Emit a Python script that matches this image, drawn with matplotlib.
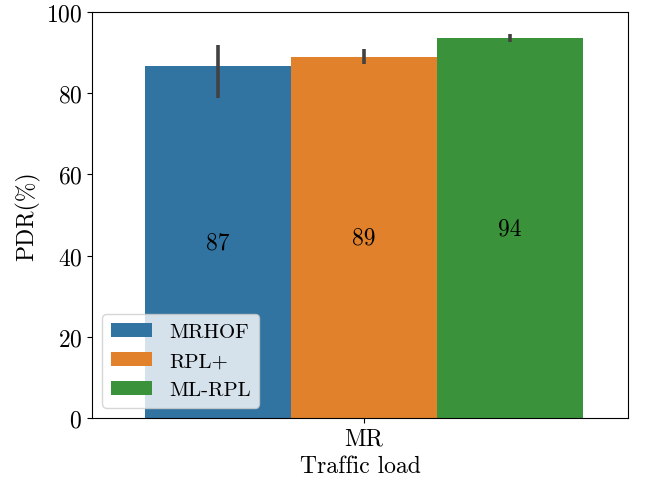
import matplotlib
matplotlib.use("Agg")
import matplotlib.pyplot as plt

plt.rcParams['font.family'] = 'cmr10'
plt.rcParams['mathtext.fontset'] = 'cm'
plt.rcParams['axes.formatter.use_mathtext'] = True
plt.rcParams['font.size'] = 17

protocols = ["MRHOF", "RPL+", "ML-RPL"]
pdr_mean = [86.7, 88.9, 93.6]
ci_low = [78.8, 87.1, 92.6]
ci_high = [91.9, 91.0, 94.5]
category = "MR"
colors = ["#3274a1", "#e1812c", "#3a923a"]

fig, ax = plt.subplots(figsize=(6.45, 4.81), dpi=100)
fig.subplots_adjust(left=0.1426, right=0.9736, top=0.973, bottom=0.129)

n = len(protocols)
width = 0.8 / n
for i, (name, m, lo, hi) in enumerate(zip(protocols, pdr_mean, ci_low, ci_high)):
    x = -0.4 + width * (i + 0.5)
    ax.bar(x, m, width=width, color=colors[i], label=name)
    ax.vlines(x, lo, hi, color=".26", linewidth=2.6)
    ax.text(x, m / 2, f"{round(m)}", ha="center", va="center", fontsize=17)

ax.set_xticks([0])
ax.set_xticklabels([category])
ax.set_xlim(-0.497, 0.482)
ax.set_ylim(0, 100)
ax.set_yticks(range(0, 101, 20))
ax.set_xlabel("Traffic load")
ax.set_ylabel("PDR(%)")
ax.legend(loc="lower left", fontsize=15)

fig.savefig("out.png", dpi=100)
